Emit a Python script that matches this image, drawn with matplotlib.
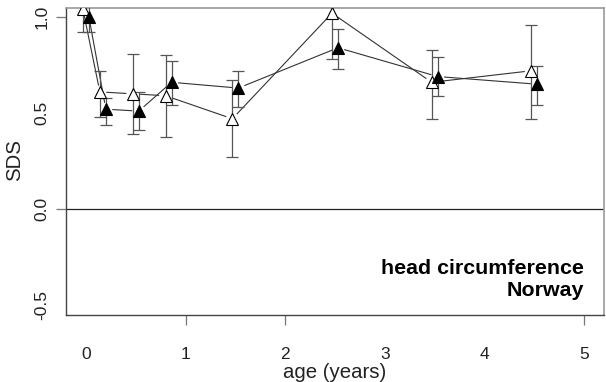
import numpy as np
import matplotlib
matplotlib.use("Agg")
import matplotlib.pyplot as plt

plt.rcParams['font.family'] = ['Liberation Sans', 'DejaVu Sans']

# Age of measurement (years)
ages = [0.0, 0.17, 0.5, 0.83, 1.5, 2.5, 3.5, 4.5]

# Group A (open triangles): mean SDS and 95% CI
sds_open = [1.04, 0.61, 0.60, 0.59, 0.47, 1.02, 0.66, 0.72]
lo_open = [0.92, 0.48, 0.39, 0.375, 0.27, 0.78, 0.47, 0.47]
hi_open = [1.16, 0.72, 0.81, 0.80, 0.67, 1.26, 0.83, 0.96]

# Group B (filled triangles): mean SDS and 95% CI
sds_fill = [1.00, 0.52, 0.51, 0.66, 0.63, 0.84, 0.69, 0.65]
lo_fill = [0.92, 0.44, 0.41, 0.54, 0.53, 0.73, 0.59, 0.54]
hi_fill = [1.08, 0.58, 0.61, 0.77, 0.72, 0.94, 0.79, 0.745]

offset = 0.03

fig = plt.figure(figsize=(6.06, 3.82), dpi=100)
ax = fig.add_axes([66/606, 1-315/382, (604-66)/606, (315-8)/382])
ax.set_xlim(-0.2, 5.2)
ax.set_ylim(-0.552, 1.047)

ax.axhline(0, color='#222222', lw=0.9, zorder=1)

x_open = np.array(ages) - offset
x_fill = np.array(ages) + offset


def gapped_line(xs, ys, gap_px=7):
    # connect points with segments that stop short of each marker
    fig.canvas.draw()
    pts = ax.transData.transform(np.column_stack([xs, ys]))
    inv = ax.transData.inverted()
    for p0, p1 in zip(pts[:-1], pts[1:]):
        d = p1 - p0
        L = np.hypot(*d)
        if L <= 2 * gap_px:
            continue
        u = d / L
        a = inv.transform(p0 + u * gap_px)
        b = inv.transform(p1 - u * gap_px)
        ax.plot([a[0], b[0]], [a[1], b[1]], color='#333333', lw=0.8,
                zorder=2, clip_on=True)


def cis(xs, ys, lo, hi):
    yerr = [np.array(ys) - np.array(lo), np.array(hi) - np.array(ys)]
    ax.errorbar(xs, ys, yerr=yerr, fmt='none', ecolor='#555555',
                elinewidth=0.9, capsize=4, capthick=0.9, zorder=3)


cis(x_open, sds_open, lo_open, hi_open)
cis(x_fill, sds_fill, lo_fill, hi_fill)
gapped_line(x_open, sds_open)
gapped_line(x_fill, sds_fill)

ax.plot(x_open, sds_open, linestyle='none', marker='^', ms=8,
        mfc='white', mec='black', mew=0.8, zorder=4)
ax.plot(x_fill, sds_fill, linestyle='none', marker='^', ms=8,
        mfc='black', mec='black', mew=0.8, zorder=4)

# axes frame
for side in ['left', 'bottom']:
    ax.spines[side].set_color('#444444')
    ax.spines[side].set_linewidth(1.0)
for side in ['top', 'right']:
    ax.spines[side].set_color('#999999')
    ax.spines[side].set_linewidth(1.2)

ax.set_xticks([0, 1, 2, 3, 4, 5])
ax.set_xticklabels(['0', '1', '2', '3', '4', '5'])
ax.set_yticks([-0.5, 0.0, 0.5, 1.0])
ax.set_yticklabels(['-0.5', '0.0', '0.5', '1.0'], rotation=90, va='center')
ax.tick_params(axis='both', labelsize=12.5, length=7, width=0.9,
               color='#777777', labelcolor='#222222')
ax.tick_params(axis='x', pad=16)
ax.tick_params(axis='y', pad=5)

for i, t in enumerate(ax.xaxis.get_major_ticks()):
    if i in (0, 3, 4):
        t.tick1line.set_visible(False)
for i, t in enumerate(ax.yaxis.get_major_ticks()):
    if i in (0, 2):
        t.tick1line.set_visible(False)

ax.set_xlabel('age (years)', fontsize=14.7, color='#222222')
ax.set_ylabel('SDS', fontsize=14.7, color='#222222')
ax.xaxis.set_label_coords((335 - 66) / 538, -(372 - 315) / 307)
ax.yaxis.set_label_coords(-(66 - 15) / 538, (315 - 160) / 307)
ax.xaxis.label.set_va('center')
ax.yaxis.label.set_va('center')

ax.text(5.0, -0.31, 'head circumference', ha='right', va='center',
        fontsize=15.4, fontweight='bold')
ax.text(5.0, -0.425, 'Norway', ha='right', va='center',
        fontsize=15.4, fontweight='bold')

fig.savefig('out.png', dpi=100)
